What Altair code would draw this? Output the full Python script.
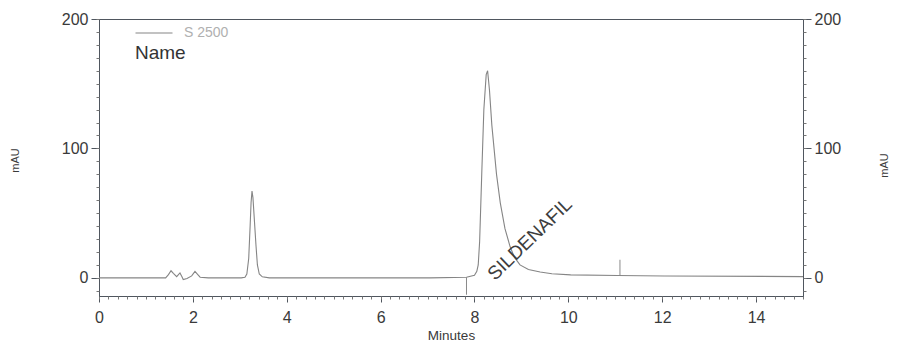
import altair as alt
import pandas as pd

# ---- data ----
time_min = [0.00, 1.42, 1.48, 1.535, 1.585, 1.655, 1.725, 1.765, 1.795, 1.875, 1.975, 2.045, 2.105, 2.155, 2.33,
            3.03, 3.11, 3.15, 3.19, 3.22, 3.24, 3.26, 3.28, 3.31, 3.345, 3.375, 3.415, 3.48, 3.63,
            7.05, 7.83, 8.00, 8.05, 8.08, 8.11, 8.155, 8.20, 8.25, 8.28, 8.32, 8.37, 8.47, 8.55,
            8.65, 8.76, 8.85, 8.97, 9.15, 9.40, 9.65, 10.05, 11.05, 12.05, 15.00]
absorbance = [0.0, 0.0, 2.5, 5.5, 3.5, 1.0, 3.8, 1.0, -1.3, -0.5, 1.5, 5.0, 2.5, 0.5, 0.0,
              0.0, 0.5, 3.0, 15.0, 40.0, 58.0, 67.0, 62.0, 45.0, 25.0, 10.0, 3.0, 0.8, 0.0,
              0.0, 0.5, 2.0, 5.0, 10.0, 28.0, 80.0, 130.0, 157.0, 160.0, 145.0, 118.0, 80.0, 58.0,
              38.0, 24.0, 16.0, 10.0, 6.5, 4.5, 3.2, 2.3, 1.8, 1.5, 1.0]
series_name = "S 2500"

# integration start marker and event marker
start_mark_t = [7.83]
start_mark_y1 = [0.5]
start_mark_y2 = [-13.0]
event_mark_t = [11.10]
event_mark_y1 = [1.7]
event_mark_y2 = [14.0]

# peak label
peak_names = ["SILDENAFIL"]
peak_label_t = [9.18]
peak_label_y = [30.0]

x_major = [0, 2, 4, 6, 8, 10, 12, 14]
x_minor = [round(i * 0.2, 1) for i in range(0, 76)]
y_major = [0, 100, 200]
y_minor = [v for v in range(-10, 201, 10)]

trace_df = pd.DataFrame({"time": time_min, "mAU": absorbance, "series": series_name})
start_df = pd.DataFrame({"time": start_mark_t, "y1": start_mark_y1, "y2": start_mark_y2})
event_df = pd.DataFrame({"time": event_mark_t, "y1": event_mark_y1, "y2": event_mark_y2})
label_df = pd.DataFrame({"time": peak_label_t, "mAU": peak_label_y, "name": peak_names})

AX = "#4f565e"
TXT = "#3a3a3a"
x_scale = alt.Scale(domain=[0, 15], nice=False, zero=False)
y_scale = alt.Scale(domain=[-14, 200], nice=False, zero=False)

line = alt.Chart(trace_df).mark_line(strokeWidth=1.1).encode(
    x=alt.X("time:Q", scale=x_scale,
            axis=alt.Axis(orient="bottom", values=x_major, format="d", title="Minutes", tickSize=6,
                          labelPadding=7, labelFlush=False, titleY=39, titleBaseline="middle",
                          titleFontSize=13.5, titleFontWeight="normal", titleColor=TXT, grid=False)),
    y=alt.Y("mAU:Q", scale=y_scale,
            axis=alt.Axis(orient="left", values=y_major, format="d", tickSize=8, labelPadding=3,
                          labelFlush=False,
                          title="mAU", titleX=-84, titleY=141, titleAngle=270, titleBaseline="middle",
                          titleAlign="center", titleFontSize=11, titleFontWeight="normal",
                          titleColor=TXT, grid=False)),
    color=alt.Color("series:N", scale=alt.Scale(domain=[series_name], range=["#858585"]),
                    legend=alt.Legend(orient="none", legendX=36, legendY=-5, title="Name",
                                      titleOrient="bottom", titleAnchor="start", titleFontSize=19,
                                      titleFontWeight="normal", titleColor="#333333", titlePadding=4,
                                      symbolType="stroke", symbolSize=1369, symbolStrokeWidth=1,
                                      symbolStrokeColor="#b8b8b8", labelColor="#b0b0b0",
                                      labelFontSize=14, labelOffset=11, padding=0)),
)

start_marks = alt.Chart(start_df).mark_rule(color="#8a8a8a", strokeWidth=1).encode(
    x=alt.X("time:Q", scale=x_scale,
            axis=alt.Axis(orient="bottom", values=x_minor, labels=False, domain=False, tickSize=3,
                          title=None, grid=False, tickColor="#777777")),
    y=alt.Y("y1:Q", scale=y_scale,
            axis=alt.Axis(orient="left", values=y_minor, labels=False, domain=False, tickSize=3,
                          title=None, grid=False, tickColor="#777777")),
    y2="y2:Q",
)

labels = alt.Chart(label_df).mark_text(angle=316, fontSize=19, color="#3d3d3d",
                                       align="center", baseline="middle").encode(
    x=alt.X("time:Q", scale=x_scale, axis=None),
    y=alt.Y("mAU:Q", scale=y_scale,
            axis=alt.Axis(orient="right", values=y_major, format="d", tickSize=8, labelPadding=3,
                          labelFlush=False,
                          title="mAU", titleX=81, titleY=146, titleAngle=270, titleBaseline="middle",
                          titleAlign="center", titleFontSize=11, titleFontWeight="normal",
                          titleColor=TXT, grid=False)),
    text="name:N",
)

event_marks = alt.Chart(event_df).mark_rule(color="#8a8a8a", strokeWidth=1).encode(
    x=alt.X("time:Q", scale=x_scale, axis=None),
    y=alt.Y("y1:Q", scale=y_scale,
            axis=alt.Axis(orient="right", values=y_minor, labels=False, domain=False, tickSize=3,
                          title=None, grid=False, tickColor="#777777")),
    y2="y2:Q",
)

chart = alt.layer(line, start_marks, labels, event_marks).resolve_scale(
    x="shared", y="shared"
).resolve_axis(
    x="independent", y="independent"
).properties(
    width=704, height=277,
    autosize=alt.AutoSizeParams(type="none"),
    padding={"left": 91, "top": 11, "right": 88, "bottom": 46},
).configure(
    font="Liberation Sans",
).configure_axis(
    labelFont="Liberation Sans", labelFontSize=16, labelColor=TXT,
    domainColor=AX, tickColor=AX, domainWidth=1, tickWidth=1,
    titleFont="Liberation Sans",
).configure_view(
    stroke=AX, strokeWidth=1,
).configure_legend(
    labelFont="Liberation Sans", titleFont="Liberation Sans",
)

chart.save("out.html", embed_options={"renderer": "svg", "actions": False})
